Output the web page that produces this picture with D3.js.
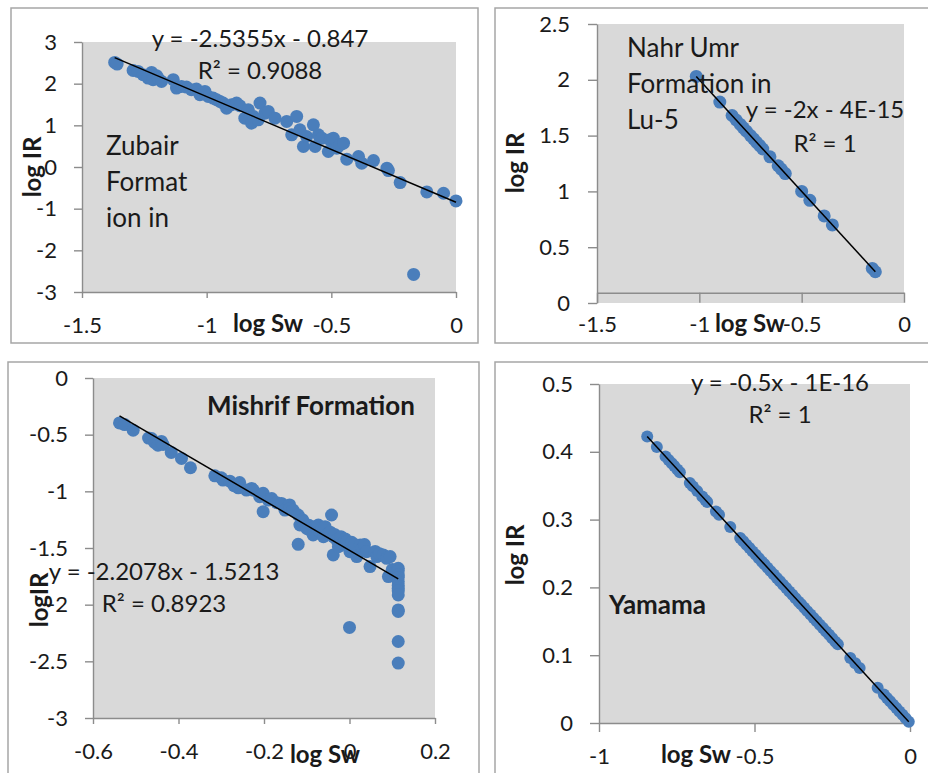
<!DOCTYPE html>
<html>
<head>
<meta charset="utf-8">
<title>log IR vs log Sw</title>
<script src="https://cdn.jsdelivr.net/npm/d3@7"></script>
<style>
  * { margin: 0; padding: 0; }
  body { background: #fff; }
  svg text { font-family: Lato, 'Open Sans', sans-serif; fill: #1a1a1a; }
</style>
</head>
<body>
<div id="chart"></div>
<script>
// --- Zubair Formation ---
var zubairSw = [-1.369, -1.359, -1.295, -1.275, -1.255, -1.235, -1.221, -1.215, -1.201, -1.195, -1.181, -1.134, -1.121,
  -1.101, -1.081, -1.061, -1.041, -1.027, -1.007, -0.994, -0.974, -0.960, -0.947, -0.934, -0.920, -0.900, -0.880, -0.867,
  -0.847, -0.833, -0.820, -0.813, -0.793, -0.786, -0.766, -0.753, -0.726, -0.679, -0.659, -0.639, -0.626, -0.612, -0.599,
  -0.572, -0.565, -0.552, -0.538, -0.512, -0.505, -0.492, -0.478, -0.465, -0.451, -0.438, -0.391, -0.378, -0.331, -0.277,
  -0.271, -0.224, -0.117, -0.050, 0.000, -0.170];
var zubairIR = [2.511, 2.471, 2.319, 2.295, 2.215, 2.135, 2.271, 2.095, 2.191, 2.135, 2.054, 2.095, 1.894,
  1.934, 1.918, 1.854, 1.870, 1.734, 1.814, 1.694, 1.654, 1.614, 1.574, 1.534, 1.413, 1.494, 1.534, 1.470,
  1.173, 1.373, 1.053, 1.213, 1.133, 1.534, 1.293, 1.333, 1.173, 1.093, 0.772, 1.213, 0.893, 0.492, 0.732,
  1.013, 0.492, 0.772, 0.692, 0.372, 0.652, 0.692, 0.452, 0.532, 0.572, 0.187, 0.252, 0.091, 0.155, -0.029,
  -0.085, -0.373, -0.598, -0.630, -0.814, -2.577];
var zubairFit = [-2.5355, -0.847];
var zubairXTicks = [-1.5, -1, -0.5, 0];
var zubairYTicks = [-3, -2, -1, 0, 1, 2, 3];

// --- Nahr Umr Formation in Lu-5 ---
var nahrSw = [-1.015, -0.90, -0.84, -0.82, -0.80, -0.785, -0.77, -0.75, -0.735, -0.72, -0.705, -0.69, -0.655,
  -0.615, -0.60, -0.58, -0.50, -0.46, -0.39, -0.35, -0.155, -0.14];
var nahrIR = [2.03, 1.80, 1.68, 1.64, 1.60, 1.57, 1.54, 1.50, 1.47, 1.44, 1.41, 1.38, 1.31,
  1.23, 1.20, 1.16, 1.00, 0.92, 0.78, 0.70, 0.31, 0.28];
var nahrFit = [-2, 0];
var nahrXTicks = [-1.5, -1, -0.5, 0];
var nahrYTicks = [0, 0.5, 1, 1.5, 2, 2.5];

// --- Mishrif Formation ---
var mishrifSw = [-0.538, -0.526, -0.506, -0.470, -0.463, -0.456, -0.448, -0.440, -0.436, -0.417, -0.393, -0.372, -0.315,
  -0.300, -0.296, -0.280, -0.270, -0.257, -0.260, -0.241, -0.229, -0.225, -0.210, -0.202, -0.190, -0.182, -0.202, -0.170,
  -0.159, -0.151, -0.140, -0.139, -0.132, -0.120, -0.116, -0.110, -0.108, -0.100, -0.095, -0.093, -0.085, -0.081,
  -0.075, -0.073, -0.069, -0.065, -0.061, -0.057, -0.050, -0.045, -0.042, -0.038, -0.038, -0.035, -0.030, -0.026,
  -0.022, -0.020, -0.015, -0.010, -0.007, -0.003, 0.001, 0.005, 0.009, 0.012, 0.017, 0.025, 0.030, 0.035, 0.040,
  0.048, 0.060, 0.064, 0.070, 0.079, 0.087, 0.095, 0.091, 0.100, 0.105, 0.114, 0.114, 0.114, 0.114, 0.114, 0.114,
  0.114, 0.114, 0.114, 0.114, 0.114, 0.114, 0.114, 0.000, -0.120];
var mishrifIR = [-0.396, -0.411, -0.461, -0.530, -0.534, -0.569, -0.593, -0.560, -0.587, -0.657, -0.710, -0.792, -0.863,
  -0.880, -0.901, -0.910, -0.950, -0.922, -0.969, -0.989, -0.974, -0.990, -1.048, -1.018, -1.077, -1.063, -1.180, -1.100,
  -1.107, -1.165, -1.120, -1.151, -1.165, -1.209, -1.297, -1.250, -1.268, -1.327, -1.300, -1.341, -1.385, -1.312,
  -1.340, -1.297, -1.356, -1.330, -1.400, -1.312, -1.371, -1.360, -1.209, -1.400, -1.561, -1.380, -1.429, -1.488,
  -1.444, -1.400, -1.459, -1.420, -1.444, -1.488, -1.532, -1.450, -1.503, -1.470, -1.576, -1.473, -1.500, -1.470, -1.532,
  -1.664, -1.530, -1.576, -1.550, -1.561, -1.591, -1.576, -1.752, -1.690, -1.720, -1.679, -1.700, -1.738, -1.760, -1.796,
  -1.830, -1.855, -1.880, -1.914, -2.046, -2.060, -2.325, -2.515, -2.201, -1.468];
var mishrifFit = [-2.2078, -1.5213];
var mishrifXTicks = [-0.6, -0.4, -0.2, 0, 0.2];
var mishrifYTicks = [-3, -2.5, -2, -1.5, -1, -0.5, 0];

// --- Yamama ---
var yamamaSw = [-0.845, -0.814, -0.786, -0.776, -0.766, -0.758, -0.748, -0.740, -0.708, -0.698, -0.684, -0.668, -0.658,
  -0.652, -0.624, -0.614, -0.578, -0.546, -0.536, -0.526, -0.516, -0.506, -0.496, -0.486, -0.476, -0.468, -0.458, -0.448,
  -0.438, -0.428, -0.418, -0.408, -0.398, -0.388, -0.378, -0.368, -0.358, -0.350, -0.340, -0.330, -0.320, -0.310, -0.300,
  -0.290, -0.280, -0.270, -0.260, -0.250, -0.240, -0.232, -0.192, -0.176, -0.162, -0.104, -0.084, -0.074, -0.064, -0.054,
  -0.044, -0.034, -0.024, -0.014, -0.004];
var yamamaIR = [0.4225, 0.407, 0.393, 0.388, 0.383, 0.379, 0.374, 0.370, 0.354, 0.349, 0.342, 0.334, 0.329,
  0.326, 0.312, 0.307, 0.289, 0.273, 0.268, 0.263, 0.258, 0.253, 0.248, 0.243, 0.238, 0.234, 0.229, 0.224,
  0.219, 0.214, 0.209, 0.204, 0.199, 0.194, 0.189, 0.184, 0.179, 0.175, 0.170, 0.165, 0.160, 0.155, 0.150,
  0.145, 0.140, 0.135, 0.130, 0.125, 0.120, 0.116, 0.096, 0.088, 0.081, 0.052, 0.042, 0.037, 0.032, 0.027,
  0.022, 0.017, 0.012, 0.007, 0.002];
var yamamaFit = [-0.5, 0];
var yamamaXTicks = [-1, -0.5, 0];
var yamamaYTicks = [0, 0.1, 0.2, 0.3, 0.4, 0.5];

var W = 928, H = 773;
var svg = d3.select('#chart').append('svg').attr('width', W).attr('height', H);

var panels = [
  { box: [11, 8, 478, 343], sw: zubairSw, ir: zubairIR, fit: zubairFit, r: 6.5,
    xDomain: [-1.5, 0], yDomain: [-3, 3], xRange: [82, 456], yRange: [292, 42],
    xTicks: zubairXTicks, yTicks: zubairYTicks, xCross: -3, xTickSize: 6, xPad: 19, yTickSize: 8, yPad: 17,
    yTitle: 'log IR', yTitlePos: [41, 167], xTitlePos: [268, 332],
    eq: ['y = -2.5355x - 0.847', 'R² = 0.9088'], eqPos: [[260, 47], [260, 79]],
    label: ['Zubair', 'Format', 'ion in'], labelPos: [106, 155], labelBold: false },
  { box: [495, 8, 940, 343], sw: nahrSw, ir: nahrIR, fit: nahrFit, r: 6.5,
    xDomain: [-1.5, 0], yDomain: [0, 2.5], xRange: [597, 904], yRange: [303, 24],
    xTicks: nahrXTicks, yTicks: nahrYTicks, xCross: 0.092, xTickSize: 10, xPad: 14, yTickSize: 9, yPad: 18,
    yTitle: 'log IR', yTitlePos: [524, 163], xTitlePos: [750, 332],
    eq: ['y = -2x - 4E-15', 'R² = 1'], eqPos: [[825, 118], [825, 152]],
    label: ['Nahr Umr', 'Formation in', 'Lu-5'], labelPos: [627, 57], labelBold: false },
  { box: [8, 362, 479, 790], sw: mishrifSw, ir: mishrifIR, fit: mishrifFit, r: 6.5,
    xDomain: [-0.6, 0.2], yDomain: [-3, 0], xRange: [93, 435], yRange: [718, 378],
    xTicks: mishrifXTicks, yTicks: mishrifYTicks, xCross: -3, xTickSize: 6, xPad: 19, yTickSize: 8, yPad: 17,
    yTitle: 'logIR', yTitlePos: [48, 600], xTitlePos: [325, 763],
    eq: ['y = -2.2078x - 1.5213', 'R² = 0.8923'], eqPos: [[164, 580], [164, 612]],
    label: ['Mishrif Formation'], labelPos: [207, 415], labelBold: true },
  { box: [495, 362, 940, 790], sw: yamamaSw, ir: yamamaIR, fit: yamamaFit, r: 6,
    xDomain: [-1, 0], yDomain: [0, 0.5], xRange: [599, 910], yRange: [723, 384],
    xTicks: yamamaXTicks, yTicks: yamamaYTicks, xCross: 0, xTickSize: 9, xPad: 16, yTickSize: 9, yPad: 17,
    yTitle: 'log IR', yTitlePos: [524, 555], xTitlePos: [696, 763],
    eq: ['y = -0.5x - 1E-16', 'R² = 1'], eqPos: [[780, 391], [780, 423]],
    label: ['Yamama'], labelPos: [609, 614], labelBold: true }
];

var fmt = function(d) { return String(d); };

panels.forEach(function(p) {
  var g = svg.append('g');
  var x = d3.scaleLinear().domain(p.xDomain).range(p.xRange);
  var y = d3.scaleLinear().domain(p.yDomain).range(p.yRange);

  // chart border
  g.append('rect')
    .attr('x', p.box[0]).attr('y', p.box[1])
    .attr('width', p.box[2] - p.box[0]).attr('height', p.box[3] - p.box[1])
    .attr('fill', '#fff').attr('stroke', '#a6a6a6').attr('stroke-width', 1.5);

  // plot area
  g.append('rect')
    .attr('x', p.xRange[0]).attr('y', p.yRange[1])
    .attr('width', p.xRange[1] - p.xRange[0]).attr('height', p.yRange[0] - p.yRange[1])
    .attr('fill', '#d9d9d9');

  // axes
  var ya = g.append('g').attr('transform', 'translate(' + p.xRange[0] + ',0)')
    .call(d3.axisLeft(y).tickValues(p.yTicks).tickSize(p.yTickSize).tickSizeOuter(0)
      .tickPadding(p.yPad).tickFormat(fmt));
  var xa = g.append('g').attr('transform', 'translate(0,' + y(p.xCross) + ')')
    .call(d3.axisBottom(x).tickValues(p.xTicks).tickSize(p.xTickSize).tickSizeOuter(0)
      .tickPadding(p.xPad).tickFormat(fmt));
  [ya, xa].forEach(function(a) {
    a.attr('font-family', null).attr('font-size', 22);
    a.selectAll('path, line').attr('stroke', '#8c8c8c').attr('stroke-width', 1.4);
    a.selectAll('text').attr('fill', '#1a1a1a');
  });

  // points
  var pts = p.sw.map(function(v, i) { return [v, p.ir[i]]; });
  g.append('g').selectAll('circle')
    .data(pts)
    .enter().append('circle')
    .attr('cx', function(d) { return x(d[0]); })
    .attr('cy', function(d) { return y(d[1]); })
    .attr('r', p.r)
    .attr('fill', '#4a7ebb');

  // linear trend line
  var ext = d3.extent(p.sw);
  var fitLine = d3.line()
    .x(function(d) { return x(d); })
    .y(function(d) { return y(p.fit[0] * d + p.fit[1]); });
  g.append('path').datum(ext)
    .attr('d', fitLine)
    .attr('fill', 'none').attr('stroke', '#000').attr('stroke-width', 1.5);

  // axis titles
  g.append('text')
    .attr('transform', 'translate(' + p.yTitlePos[0] + ',' + p.yTitlePos[1] + ') rotate(-90)')
    .attr('text-anchor', 'middle').attr('font-weight', 'bold').attr('font-size', 24)
    .text(p.yTitle);
  g.append('text')
    .attr('x', p.xTitlePos[0]).attr('y', p.xTitlePos[1])
    .attr('text-anchor', 'middle').attr('font-weight', 'bold').attr('font-size', 24)
    .text('log Sw');

  // trendline equation
  p.eq.forEach(function(t, i) {
    g.append('text')
      .attr('x', p.eqPos[i][0]).attr('y', p.eqPos[i][1])
      .attr('text-anchor', 'middle').attr('font-size', 24)
      .text(t);
  });

  // formation label
  p.label.forEach(function(t, i) {
    g.append('text')
      .attr('x', p.labelPos[0]).attr('y', p.labelPos[1] + i * 36)
      .attr('font-size', 26)
      .attr('font-weight', p.labelBold ? 'bold' : 'normal')
      .text(t);
  });
});
</script>
</body>
</html>
